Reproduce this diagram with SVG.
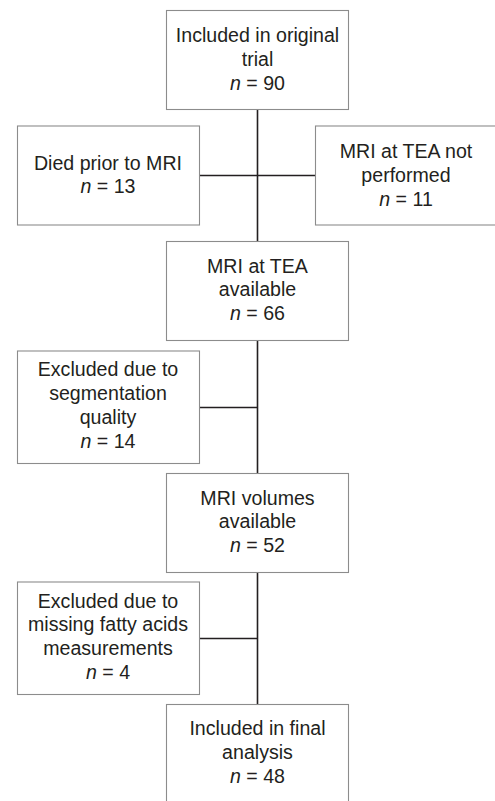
<svg xmlns="http://www.w3.org/2000/svg" width="495" height="801" viewBox="0 0 495 801">
<style>
.box{fill:#fff;stroke:#8c8c8c;stroke-width:1.1}
.t{font-family:"Liberation Sans",Arial,sans-serif;font-size:19.6px;fill:#231f20;text-anchor:middle}
.i{font-style:italic}
.c{stroke:#231f20;stroke-width:1.6;fill:none}
</style>
<rect width="495" height="801" fill="#fff"/>
<g id="connectors">
<line class="c" x1="257.5" y1="109" x2="257.5" y2="704"/>
<line class="c" x1="199" y1="175.5" x2="315" y2="175.5"/>
<line class="c" x1="199" y1="407.5" x2="257.5" y2="407.5"/>
<line class="c" x1="199" y1="638.5" x2="257.5" y2="638.5"/>
</g>
<g id="n1">
<rect class="box" x="166.5" y="10.5" width="182" height="99"/>
<text class="t" x="257.5" y="41.5">Included in original</text>
<text class="t" x="257.5" y="65.5">trial</text>
<text class="t" x="257.5" y="89.5"><tspan class="i">n</tspan> = 90</text>
</g>
<g id="n2">
<rect class="box" x="17.5" y="126" width="182" height="99"/>
<text class="t" x="108" y="169.5">Died prior to MRI</text>
<text class="t" x="108" y="193"><tspan class="i">n</tspan> = 13</text>
</g>
<g id="n3">
<rect class="box" x="315.5" y="126" width="190" height="99"/>
<text class="t" x="406" y="157.5">MRI at TEA not</text>
<text class="t" x="406" y="181.5">performed</text>
<text class="t" x="406" y="205.5"><tspan class="i">n</tspan> = 11</text>
</g>
<g id="n4">
<rect class="box" x="166.5" y="241.5" width="182" height="99"/>
<text class="t" x="257.5" y="272.5">MRI at TEA</text>
<text class="t" x="257.5" y="296">available</text>
<text class="t" x="257.5" y="320"><tspan class="i">n</tspan> = 66</text>
</g>
<g id="n5">
<rect class="box" x="17.5" y="351" width="182" height="112.5"/>
<text class="t" x="108" y="376">Excluded due to</text>
<text class="t" x="108" y="400">segmentation</text>
<text class="t" x="108" y="424">quality</text>
<text class="t" x="108" y="448"><tspan class="i">n</tspan> = 14</text>
</g>
<g id="n6">
<rect class="box" x="166.5" y="473.5" width="182" height="99"/>
<text class="t" x="257.5" y="504.5">MRI volumes</text>
<text class="t" x="257.5" y="528">available</text>
<text class="t" x="257.5" y="552"><tspan class="i">n</tspan> = 52</text>
</g>
<g id="n7">
<rect class="box" x="17.5" y="582" width="182" height="112.5"/>
<text class="t" x="108" y="607.5">Excluded due to</text>
<text class="t" x="108" y="631">missing fatty acids</text>
<text class="t" x="108" y="655">measurements</text>
<text class="t" x="108" y="679"><tspan class="i">n</tspan> = 4</text>
</g>
<g id="n8">
<rect class="box" x="166.5" y="704.5" width="182" height="110"/>
<text class="t" x="257.5" y="735">Included in final</text>
<text class="t" x="257.5" y="759">analysis</text>
<text class="t" x="257.5" y="783"><tspan class="i">n</tspan> = 48</text>
</g>
</svg>
